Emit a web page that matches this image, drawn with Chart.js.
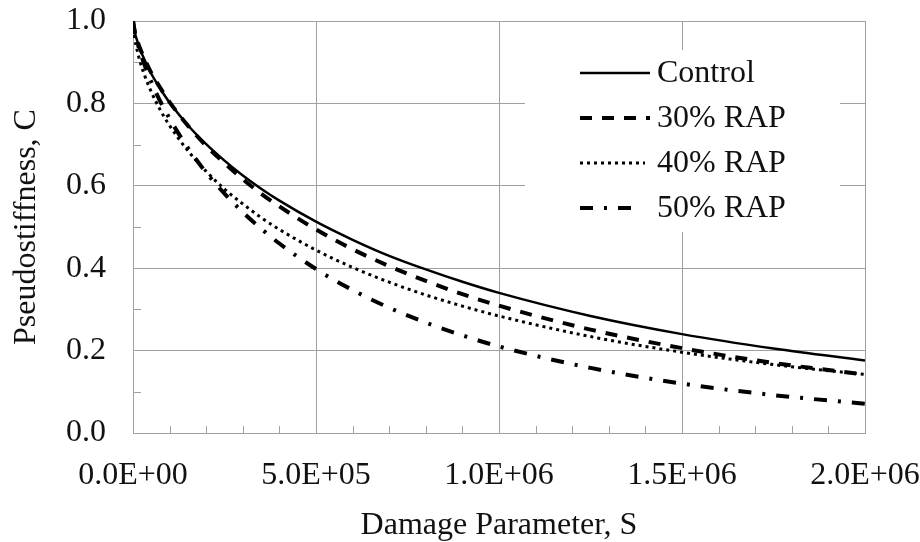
<!DOCTYPE html>
<html>
<head>
<meta charset="utf-8">
<script src="https://cdn.jsdelivr.net/npm/chart.js@4.4.1/dist/chart.umd.min.js"></script>
<style>
  html, body { margin: 0; padding: 0; background: #fff; }
  #wrap { width: 920px; height: 542px; }
</style>
</head>
<body>
<div id="wrap"><canvas id="chart"></canvas></div>
<script>
// ── Data ─────────────────────────────────────────────────────
const damageS = [0, 5e3, 1e4, 2e4, 3.3e4, 5e4, 7.5e4, 1e5, 1.5e5, 2e5, 2.5e5, 3e5, 3.5e5, 4e5,
    5e5, 6e5, 7e5, 8e5, 9e5, 1e6, 1.25e6, 1.5e6, 1.75e6, 2e6];
const control = [1.0, 0.972, 0.956, 0.930, 0.903, 0.872, 0.835, 0.802, 0.747, 0.701, 0.661, 0.625, 0.593, 0.564,
    0.513, 0.469, 0.430, 0.397, 0.367, 0.340, 0.284, 0.240, 0.205, 0.176];
const rap30 = [1.0, 0.972, 0.957, 0.932, 0.905, 0.874, 0.837, 0.803, 0.746, 0.697, 0.655, 0.616, 0.581, 0.550,
    0.494, 0.446, 0.405, 0.369, 0.337, 0.309, 0.251, 0.206, 0.170, 0.142];
const rap40 = [1.0, 0.957, 0.934, 0.899, 0.865, 0.828, 0.783, 0.746, 0.685, 0.635, 0.592, 0.556, 0.523, 0.494,
    0.444, 0.402, 0.366, 0.335, 0.308, 0.284, 0.234, 0.196, 0.166, 0.142];
const rap50 = [1.0, 0.973, 0.954, 0.923, 0.890, 0.852, 0.804, 0.763, 0.692, 0.632, 0.581, 0.536, 0.496, 0.460,
    0.398, 0.347, 0.304, 0.268, 0.237, 0.210, 0.158, 0.120, 0.092, 0.071];

const seriesNames = ['Control', '30% RAP', '40% RAP', '50% RAP'];
const xTicks = [0, 5e5, 1e6, 1.5e6, 2e6];
const yTicks = [0, 0.2, 0.4, 0.6, 0.8, 1.0];

const FONT = 'Liberation Serif, Times New Roman, serif';
const GRID = '#a0a0a0';
const INK = '#111';

function sci(v) {
    // 500000 -> "5.0E+05"
    const [m, e] = v.toExponential(1).split('e');
    const n = parseInt(e, 10);
    return m + 'E' + (n < 0 ? '-' : '+') + String(Math.abs(n)).padStart(2, '0');
}

const pts = ys => damageS.map((s, i) => ({ x: s, y: ys[i] }));

// keep the plot box fixed: drop the label overflow padding chart.js adds
function fixBox(prop, size) {
    return s => {
        s[prop] = size;
        s.paddingTop = s.paddingBottom = s.paddingLeft = s.paddingRight = 0;
    };
}

// ── Minor tick marks (inside the plot) ───────────────────────
const minorTicks = {
    id: 'minorTicks',
    beforeDatasetsDraw(chart) {
        const { ctx, chartArea, scales } = chart;
        ctx.save();
        ctx.strokeStyle = GRID;
        ctx.lineWidth = 1;
        ctx.beginPath();
        for (let s = 1e5; s < 2e6; s += 1e5) {
            const x = Math.round(scales.x.getPixelForValue(s)) + 0.5;
            ctx.moveTo(x, chartArea.bottom);
            ctx.lineTo(x, chartArea.bottom - 7);
        }
        for (let c = 0.1; c < 1; c += 0.2) {
            const y = Math.round(scales.y.getPixelForValue(c)) + 0.5;
            ctx.moveTo(chartArea.left, y);
            ctx.lineTo(chartArea.left + 8, y);
        }
        ctx.stroke();
        ctx.restore();
    },
};

// ── Legend drawn inside the plot area ────────────────────────
const insideLegend = {
    id: 'insideLegend',
    afterDatasetsDraw(chart, args, o) {
        const { ctx, chartArea } = chart;
        const left = chartArea.right - o.right - o.width;
        const top = chartArea.top + o.top;
        ctx.save();
        ctx.fillStyle = '#fff';
        ctx.fillRect(left, top, o.width, o.height);
        ctx.font = `${o.fontSize}px ${FONT}`;
        ctx.textBaseline = 'middle';
        chart.data.datasets.forEach((ds, i) => {
            const y = top + o.firstRow + i * o.rowGap;
            ctx.strokeStyle = ds.borderColor;
            ctx.lineWidth = ds.borderWidth;
            ctx.setLineDash(ds.borderDash || []);
            ctx.beginPath();
            ctx.moveTo(left + o.sampleX, y);
            ctx.lineTo(left + o.sampleX + ds.legendLength, y);
            ctx.stroke();
            ctx.setLineDash([]);
            ctx.fillStyle = INK;
            ctx.fillText(ds.label, left + o.textX, y + 1);
        });
        ctx.restore();
    },
};

const base = { showLine: true, pointRadius: 0, borderColor: '#000', fill: false, cubicInterpolationMode: 'monotone' };

new Chart(document.getElementById('chart'), {
    type: 'scatter',
    data: {
        datasets: [
            { ...base, label: seriesNames[0], data: pts(control), borderWidth: 2.5, borderDash: [], legendLength: 70 },
            { ...base, label: seriesNames[1], data: pts(rap30), borderWidth: 4, borderDash: [12, 10], legendLength: 70 },
            { ...base, label: seriesNames[2], data: pts(rap40), borderWidth: 3, borderDash: [3, 4], legendLength: 65 },
            { ...base, label: seriesNames[3], data: pts(rap50), borderWidth: 4, borderDash: [13, 11, 3, 11], legendLength: 55 },
        ],
    },
    options: {
        responsive: true,
        maintainAspectRatio: false,
        animation: false,
        layout: { padding: { top: 21, right: 55, left: 0, bottom: 0 } },
        scales: {
            x: {
                type: 'linear',
                min: 0,
                max: 2e6,
                afterBuildTicks: s => { s.ticks = xTicks.map(v => ({ value: v })); },
                afterFit: fixBox('height', 109),
                ticks: { callback: v => sci(v), color: INK, font: { family: FONT, size: 32 }, padding: 23, maxRotation: 0 },
                grid: { color: GRID, lineWidth: 1, drawTicks: false },
                border: { color: GRID, width: 1 },
                title: { display: true, text: 'Damage Parameter, S', color: INK, font: { family: FONT, size: 32 }, padding: { top: 0, bottom: -3 } },
            },
            y: {
                min: 0,
                max: 1,
                afterBuildTicks: s => { s.ticks = yTicks.map(v => ({ value: v })); },
                afterFit: fixBox('width', 133),
                ticks: { callback: v => v.toFixed(1), color: INK, font: { family: FONT, size: 32 }, padding: 27 },
                grid: { color: GRID, lineWidth: 1, drawTicks: false },
                border: { color: GRID, width: 1 },
                title: { display: true, text: 'Pseudostiffness, C', color: INK, font: { family: FONT, size: 32 }, padding: { top: 7, bottom: 0 } },
            },
        },
        plugins: {
            legend: { display: false },
            tooltip: { enabled: false },
            insideLegend: { right: 25, top: 29, width: 315, height: 182, sampleX: 55, textX: 132, firstRow: 23, rowGap: 45, fontSize: 32 },
        },
    },
    plugins: [minorTicks, insideLegend],
});
</script>
</body>
</html>
